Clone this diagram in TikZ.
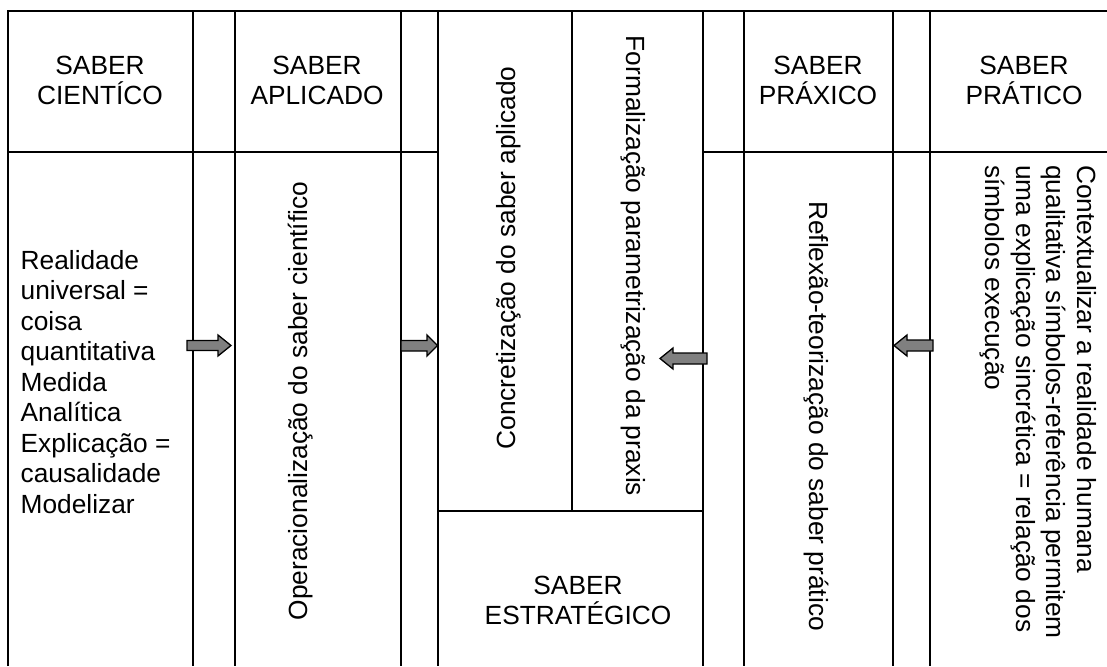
\documentclass[tikz,border=0pt]{standalone}
\usepackage{fontspec}
\setmainfont{Liberation Sans}
\definecolor{arrowgray}{RGB}{128,128,128}
\begin{document}
\begin{tikzpicture}[x=1pt,y=-1pt,
  grid/.style={line width=2pt,black},
  txt/.style={inner sep=0pt,font=\fontsize{26.3}{30.5}\selectfont},
  blockarrow/.style={fill=arrowgray,draw=black,line width=1.3pt,line join=miter}]
\useasboundingbox (0,0) rectangle (1107,666);
% frame and grid
\draw[grid] (7.5,666) -- (7.5,11) -- (1107,11);
\draw[grid] (193,11) -- (193,666);
\draw[grid] (235,11) -- (235,666);
\draw[grid] (401,11) -- (401,666);
\draw[grid] (438,11) -- (438,666);
\draw[grid] (572,11) -- (572,511);
\draw[grid] (703,11) -- (703,666);
\draw[grid] (744,11) -- (744,666);
\draw[grid] (893,11) -- (893,666);
\draw[grid] (930,11) -- (930,666);
\draw[grid] (7.5,152) -- (438,152);
\draw[grid] (703,152) -- (1107,152);
\draw[grid] (438,511) -- (703,511);
% titles
\node[txt,anchor=base] (c1) at (100,75) {SABER};
\node[txt,anchor=base] (c2) at (100,105) {CIENTÍCO};
\node[txt,anchor=base] (a1) at (317,75) {SABER};
\node[txt,anchor=base] (a2) at (317,105) {APLICADO};
\node[txt,anchor=base] (x1) at (818,75) {SABER};
\node[txt,anchor=base] (x2) at (818,105) {PRÁXICO};
\node[txt,anchor=base] (p1) at (1024,75) {SABER};
\node[txt,anchor=base] (p2) at (1024,105) {PRÁTICO};
\node[txt,anchor=base] (e1) at (578,594) {SABER};
\node[txt,anchor=base] (e2) at (578,624) {ESTRATÉGICO};
% left text
\node[txt,anchor=base west] (l1) at (20.5,269) {Realidade};
\node[txt,anchor=base west] (l2) at (20.5,299.5) {universal =};
\node[txt,anchor=base west] (l3) at (20.5,330) {coisa};
\node[txt,anchor=base west] (l4) at (20.5,360.5) {quantitativa};
\node[txt,anchor=base west] (l5) at (20.5,391) {Medida};
\node[txt,anchor=base west] (l6) at (20.5,421.5) {Analítica};
\node[txt,anchor=base west] (l7) at (20.5,452) {Explicação =};
\node[txt,anchor=base west] (l8) at (20.5,482.5) {causalidade};
\node[txt,anchor=base west] (l9) at (20.5,513) {Modelizar};
% rotated texts
\node[txt,rotate=90,anchor=base] (op) at (307,401) {Operacionalização do saber científico};
\node[txt,rotate=90,anchor=base] (co) at (515,258) {Concretização do saber aplicado};
\node[txt,rotate=-90,anchor=base] (fo) at (626,266) {Formalização parametrização da praxis};
\node[txt,rotate=-90,anchor=base] (re) at (809,416) {Reflexão-teorização do saber prático};
\node[txt,rotate=-90,anchor=base west] (k1) at (1077,165) {Contextualizar a realidade humana};
\node[txt,rotate=-90,anchor=base west] (k2) at (1046.5,165) {qualitativa símbolos-referência permitem};
\node[txt,rotate=-90,anchor=base west] (k3) at (1016,165) {uma explicação sincrética = relação dos};
\node[txt,rotate=-90,anchor=base west] (k4) at (985.5,165) {símbolos execução};
% block arrows
\draw[blockarrow] (187,340.5) -- (218,340.5) -- (218,335) -- (231,345.5) -- (218,356) -- (218,350.5) -- (187,350.5) -- cycle;
\draw[blockarrow] (401,340.5) -- (427,340.5) -- (427,335) -- (437.5,345.5) -- (427,356) -- (427,351) -- (401,351) -- cycle;
\draw[blockarrow] (707,353) -- (673,353) -- (673,348) -- (660,358.5) -- (673,369) -- (673,364) -- (707,364) -- cycle;
\draw[blockarrow] (933,340) -- (907,340) -- (907,335) -- (894,345.5) -- (907,356) -- (907,351) -- (933,351) -- cycle;
\end{tikzpicture}
\end{document}
